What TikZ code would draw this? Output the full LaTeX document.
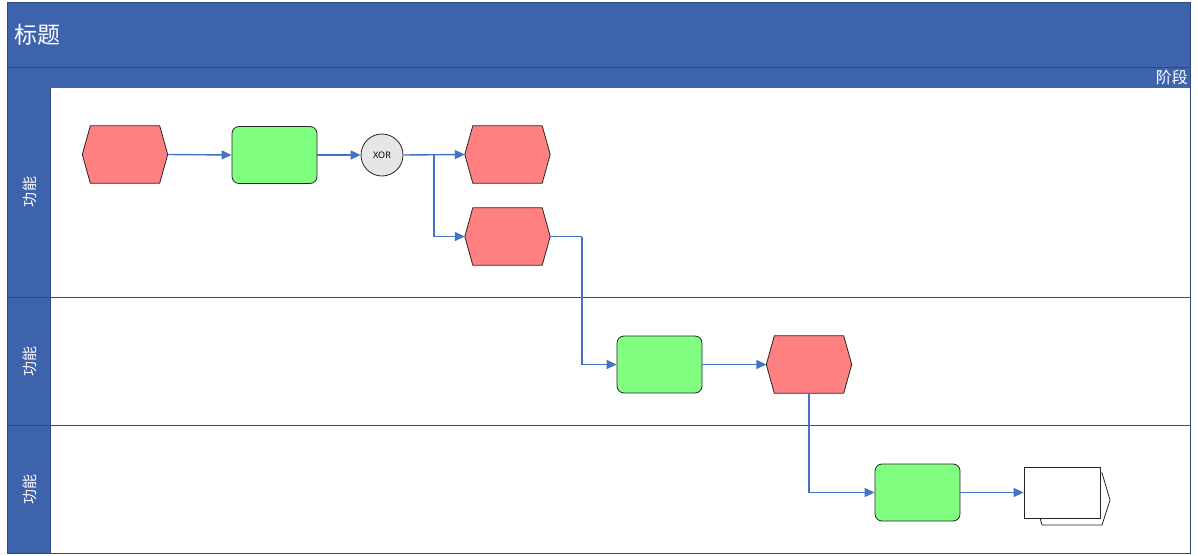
\documentclass[tikz,border=0pt]{standalone}
\usepackage{fontspec}
\setmainfont{Noto Sans}
\newfontfamily\cjk{Noto Sans CJK SC}
\usetikzlibrary{arrows.meta}
\definecolor{bandblue}{RGB}{62,99,173}
\definecolor{linkblue}{RGB}{68,114,196}
\definecolor{evred}{RGB}{255,128,128}
\definecolor{fngreen}{RGB}{128,255,128}
\definecolor{xorgray}{RGB}{230,230,230}
\definecolor{edgeblue}{RGB}{47,72,125}
\tikzset{
  box/.style={draw=none,minimum width=85pt,minimum height=57pt,inner sep=0pt},
  fnbox/.style={draw=black!85,fill=fngreen,rounded corners=7pt,minimum width=85pt,minimum height=57pt,inner sep=0pt,line width=0.8pt},
  hexline/.style={draw=black!85,fill=evred,line width=0.8pt},
  link/.style={draw=linkblue,line width=1.4pt,-{Triangle[length=10pt,width=9pt]}},
  linkplain/.style={draw=linkblue,line width=1.4pt},
  lanetext/.style={text=white,font=\cjk\fontsize{15}{15}\selectfont,rotate=90},
}
\newcommand\hexev[1]{\path[hexline] (#1.west) -- ([xshift=8pt]#1.north west) -- ([xshift=-8pt]#1.north east) -- (#1.east) -- ([xshift=-8pt]#1.south east) -- ([xshift=8pt]#1.south west) -- cycle;}
\begin{document}
\begin{tikzpicture}[x=1pt,y=-1pt]
\useasboundingbox (0,0) rectangle (1198,556);
\fill[white] (0,0) rectangle (1198,556);
% title band
\fill[bandblue] (7,2) rectangle (1190,88);
\draw[edgeblue,line width=0.8pt] (7,67) -- (1190,67);
\node[anchor=west,text=white,font=\cjk\fontsize{23}{23}\selectfont] (title) at (11,35) {标题};
\node[anchor=east,text=white,font=\cjk\fontsize{16}{16}\selectfont,inner sep=0pt] (phase) at (1188,77) {阶段};
% lanes
\fill[bandblue] (7,88) rectangle (50,553);
\draw[edgeblue,line width=0.8pt] (7,2) rectangle (1190,553);
\draw[edgeblue,line width=0.8pt] (50,88) -- (50,553);
\draw[edgeblue,line width=0.8pt] (7,297) -- (1190,297);
\draw[edgeblue,line width=0.8pt] (7,425) -- (1190,425);
\node[lanetext] (l1) at (30,192) {功能};
\node[lanetext] (l2) at (30,361) {功能};
\node[lanetext] (l3) at (30,489) {功能};
% events
\node[box] (e1) at (125,154.5) {};
\hexev{e1}
\node[box] (e2) at (507.5,154.5) {};
\hexev{e2}
\node[box] (e3) at (507.5,236.5) {};
\hexev{e3}
\node[box] (e4) at (809,364.5) {};
\hexev{e4}
% functions
\node[fnbox] (f1) at (274.5,155) {};
\node[fnbox] (f2) at (659.5,364.5) {};
\node[fnbox] (f3) at (917.5,492.5) {};
% XOR
\node[circle,draw=black!85,fill=xorgray,minimum size=42pt,inner sep=0pt,line width=0.8pt,font=\fontsize{9}{9}\selectfont] (x1) at (382,155) {XOR};
% process interface
\draw[black!85,fill=white,line width=0.8pt] (1040,518) -- (1042,525) -- (1102,525) -- (1110,500) -- (1102,473) -- (1100,473);
\node[draw=black!85,fill=white,minimum width=76pt,minimum height=51pt,inner sep=0pt,line width=0.8pt] (p1) at (1062,492.5) {};
% connectors
\coordinate (s1) at (434,155);
\coordinate (s2) at (582,236.5);
\draw[link] (e1.east) -- (f1.west);
\draw[link] (f1.east) -- (x1.west);
\draw[link] (x1.east) -- (e2.west);
\draw[link] (s1) |- (e3.west);
\draw[linkplain] (e3.east) -- (s2);
\draw[link] (s2) |- (f2.west);
\draw[link] (f2.east) -- (e4.west);
\draw[link] (e4.south) |- (f3.west);
\draw[link] (f3.east) -- (p1.west);
\end{tikzpicture}
\end{document}
